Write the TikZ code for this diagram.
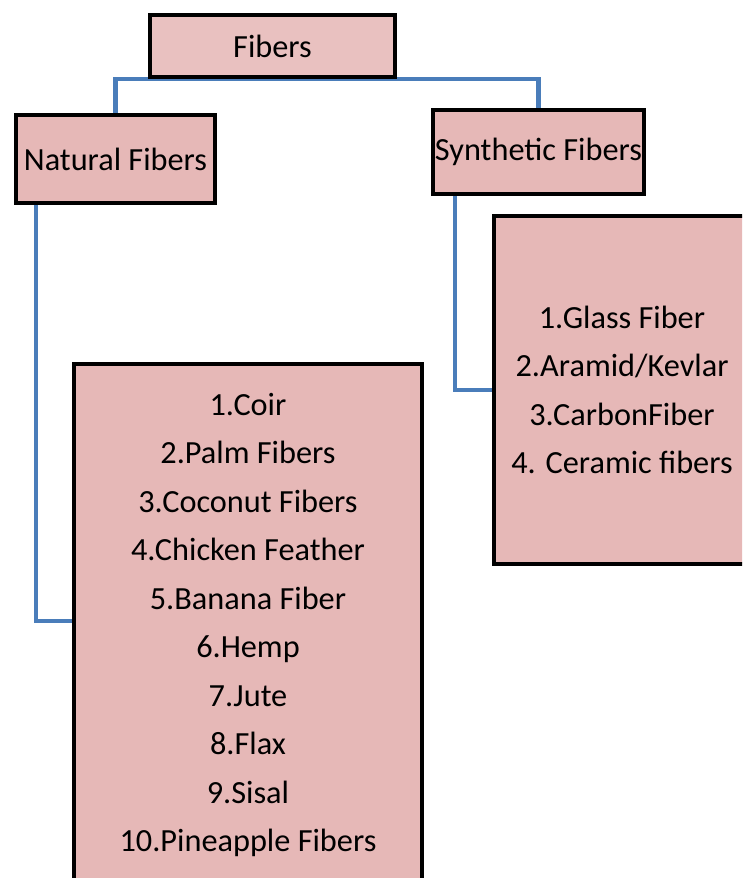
\documentclass[tikz,border=0pt]{standalone}
\usepackage{fontspec}
\setmainfont{Carlito}
\definecolor{boxpink}{HTML}{E6B8B7}
\definecolor{toppink}{HTML}{E9C1C0}
\definecolor{linkblue}{HTML}{4A7DBA}
\usetikzlibrary{positioning, backgrounds}

\begin{document}
\begin{tikzpicture}[
  x=1pt, y=-1pt,
  catbox/.style={rectangle, draw=black, fill=#1, line width=4pt, inner sep=0pt, align=center, font=\fontsize{32.3}{48.5}\selectfont},
  link/.style={linkblue, line width=4.5pt},
]
  \useasboundingbox (0,0) rectangle (742,878);
  \clip (0,0) rectangle (742,878);

  % Categories
  \node[catbox=toppink, minimum width=245pt, minimum height=62pt] (fibers) at (272.5,46) {Fibers};
  \node[catbox=boxpink, minimum width=199pt, minimum height=88pt] (natural) at (115.5,159) {Natural Fibers};
  \node[catbox=boxpink, minimum width=211pt, minimum height=84pt] (synth) at (538.5,152) {Synthetic Fibers};

  % Lists
  \node[catbox=boxpink, minimum width=348pt, minimum height=522pt] (natlist) at (248,625)
    {1.Coir\\2.Palm Fibers\\3.Coconut Fibers\\4.Chicken Feather\\5.Banana Fiber\\6.Hemp\\7.Jute\\8.Flax\\9.Sisal\\10.Pineapple Fibers};
  \node[catbox=boxpink, minimum width=256pt, minimum height=348pt] (synlist) at (622,390)
    {1.Glass Fiber\\2.Aramid/Kevlar\\3.CarbonFiber\\4. Ceramic fibers};

  % Connectors
  \begin{scope}[on background layer]
    \draw[link] (natural.north) |- (fibers.south) -| (synth.north);
    \draw[link] ([xshift=22pt]natural.south west) |- ([yshift=4pt]natlist.west);
    \draw[link] ([xshift=24pt]synth.south west) |- (synlist.west);
  \end{scope}
\end{tikzpicture}
\end{document}
